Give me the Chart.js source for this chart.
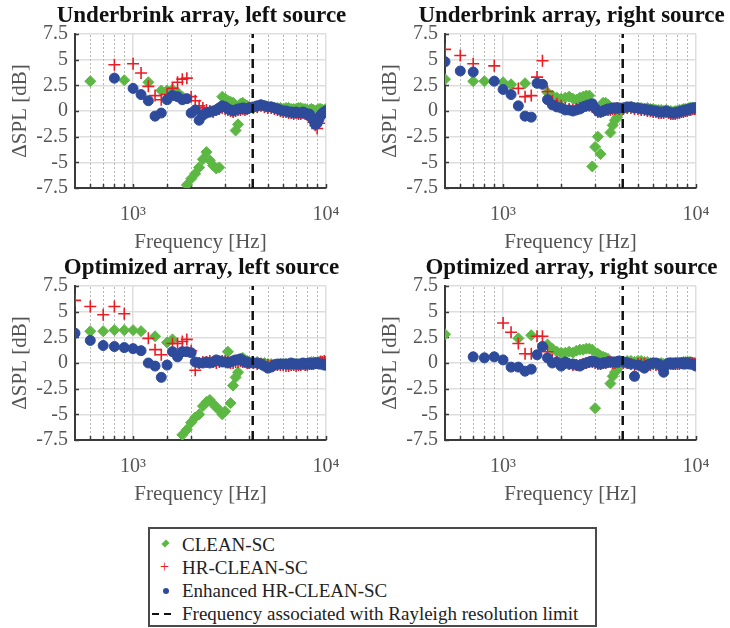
<!DOCTYPE html>
<html>
<head>
<meta charset="utf-8">
<script src="https://cdn.jsdelivr.net/npm/chart.js@4.4.0/dist/chart.umd.min.js"></script>
<style>
  body { margin: 0; width: 730px; height: 628px; overflow: hidden; position: relative; background: #fff; font-family: "Liberation Serif", serif; }
  canvas { position: absolute; }
  #legend { position: absolute; left: 148px; top: 527px; width: 445px; height: 96px; border: 2px solid #4a4a4a; font-size: 19px; color: #222; }
  #legend .row { position: absolute; left: 32px; height: 23px; line-height: 23px; white-space: nowrap; }
  #legend .mk { position: absolute; left: -32px; width: 32px; height: 23px; }
  .dia { position: absolute; left: 13px; top: 8px; width: 5px; height: 5px; background: #5db843; transform: rotate(45deg) scaleY(1.3); }
  .plus { color: #ec1c24; font-size: 16px; text-align: center; }
  .plus span { position: absolute; left: 10px; top: -1px; }
  .dot { position: absolute; left: 13px; top: 9px; width: 6px; height: 6px; border-radius: 50%; background: #2e4b9b; }
  .dash i { position: absolute; top: 11px; width: 7px; height: 2px; background: #111; }
</style>
</head>
<body>
<canvas id="c0" width="360" height="255" style="left:0;top:0"></canvas>
<canvas id="c1" width="360" height="255" style="left:370px;top:0"></canvas>
<canvas id="c2" width="360" height="255" style="left:0;top:252px"></canvas>
<canvas id="c3" width="360" height="255" style="left:370px;top:252px"></canvas>

<div id="legend">
  <div class="row" style="top:4px"><span class="mk"><i class="dia"></i></span>CLEAN-SC</div>
  <div class="row" style="top:27px"><span class="mk plus"><span>+</span></span>HR-CLEAN-SC</div>
  <div class="row" style="top:50px"><span class="mk"><i class="dot"></i></span>Enhanced HR-CLEAN-SC</div>
  <div class="row" style="top:73px"><span class="mk dash"><i style="left:2px"></i><i style="left:14px"></i></span>Frequency associated with Rayleigh resolution limit</div>
</div>

<script>
// frequencies (Hz): 100 Hz steps to 4 kHz, then 200 Hz steps
const freqs = [500, 600, 700, 800, 900, 1000, 1100, 1200, 1300, 1400, 1500, 1600, 1700, 1800, 1900,
  2000, 2100, 2200, 2300, 2400, 2500, 2600, 2700, 2800, 2900, 3000, 3100, 3200, 3300, 3400, 3500,
  3600, 3700, 3800, 3900, 4000,
  4200, 4400, 4600, 4800, 5000, 5200, 5400, 5600, 5800, 6000, 6200, 6400, 6600, 6800, 7000,
  7200, 7400, 7600, 7800, 8000, 8200, 8400, 8600, 8800, 9000, 9200, 9400, 9600, 9800, 10000];

const rayleighFreq = 4170;
const yTickValues = [-7.5, -5, -2.5, 0, 2.5, 5, 7.5];
const xLabelValues = [1000, 10000];
const xLabelTexts = ['10³', '10⁴'];
const titles = ['Underbrink array, left source', 'Underbrink array, right source',
  'Optimized array, left source', 'Optimized array, right source'];

// Underbrink, left source
const ulClean = [null, 2.9, null, null, 3.0, null, null, 2.8, null, 2.0, 2.0, 2.1, 1.8, 1.4, -7.2,
  -6.6, -6.1, -5.5, -4.7, -4.0, -4.8, -5.3, -5.6, -5.5, 1.4, 1.2, 1.0, 0.9, 0.8, -1.9, -1.3,
  0.7, 0.8, 0.6, 0.5, 0.4,
  0.3, 0.4, 0.5, 0.5, 0.4, 0.4, 0.3, 0.3, 0.3, 0.2, 0.3, 0.3, 0.2, 0.2, 0.2,
  0.3, 0.3, 0.2, 0.2, 0.1, 0.1, 0.2, 0.1, 0.0, 0.1, 0.2, 0.2, 0.1, 0.1, 0.2];
const ulHr = [null, null, null, 4.5, null, 4.6, 3.7, 2.4, 1.5, 1.1, 1.6, 2.2, 2.8, 3.1, 3.2,
  1.4, 1.0, 0.5, 0.3, 0.1, 0.0, -0.1, 0.1, 0.2, 0.3, 0.2, 0.1, 0.0, -0.1, 0.0, 0.1,
  0.1, 0.2, 0.1, 0.2, 0.3,
  0.3, 0.4, 0.5, 0.4, 0.3, 0.3, 0.2, 0.1, 0.0, -0.1, -0.1, -0.2, -0.2, -0.3, -0.2,
  -0.3, -0.3, -0.2, -0.3, -0.4, -0.5, -0.8, -1.1, -1.4, -1.7, -1.2, -0.6, -0.3, -0.2, 0.0];
const ulEnh = [null, null, null, 3.2, null, 2.2, 1.6, 1.0, -0.5, -0.2, 1.1, 1.5, 1.4, 1.1, 1.2,
  -0.2, 0.1, -0.9, -0.4, -0.2, -0.1, 0.0, 0.1, 0.3, 0.5, 0.4, 0.2, 0.1, 0.0, 0.1, 0.2,
  0.2, 0.3, 0.2, 0.2, 0.3,
  0.4, 0.5, 0.6, 0.5, 0.4, 0.4, 0.3, 0.2, 0.1, 0.0, 0.0, -0.1, -0.1, -0.2, -0.1,
  -0.2, -0.2, -0.1, -0.2, -0.3, -0.3, -0.6, -0.9, -1.3, -1.2, -0.8, -0.4, -0.2, -0.1, 0.0];

// Underbrink, right source
const urClean = [3.1, null, 2.9, 2.9, null, 2.8, 2.6, null, 2.7, null, null, null, 1.8, 1.5, 1.3,
  1.2, 1.3, 1.4, 1.2, 1.1, 1.3, 1.4, 1.5, 1.5, -5.4, -3.5, -2.5, -4.2, 0.8, 0.8, 0.6,
  -2.1, -1.4, -0.9, -0.6, -0.2,
  0.3, 0.3, 0.4, 0.3, 0.3, 0.3, 0.2, 0.3, 0.2, 0.2, 0.1, 0.1, 0.1, 0.0, 0.1,
  0.0, 0.0, -0.1, 0.0, 0.0, 0.1, 0.1, 0.2, 0.2, 0.2, 0.3, 0.3, 0.3, 0.3, 0.3];
const urHr = [6.0, 5.4, 4.6, null, 4.4, null, null, 2.2, 1.4, 1.5, 3.3, 4.9, 1.9, 1.0, 0.7,
  0.5, 0.3, 0.2, 0.1, 0.2, 0.3, 0.4, 0.5, 0.5, 0.4, 0.1, -0.1, -0.1, 0.0, 0.1, 0.1,
  0.1, 0.2, 0.2, 0.3, 0.2,
  0.2, 0.3, 0.3, 0.2, 0.2, 0.1, 0.1, 0.0, 0.0, -0.1, -0.1, -0.2, -0.2, -0.2, -0.1,
  -0.2, -0.3, -0.3, -0.3, -0.2, -0.2, -0.1, -0.1, 0.0, 0.0, 0.1, 0.1, 0.2, 0.2, 0.2];
const urEnh = [4.8, 3.9, 3.8, null, 2.9, 2.1, 1.6, 0.5, -0.5, -0.6, 2.7, 2.6, 1.1, 0.6, 0.4,
  0.3, 0.1, 0.1, 0.0, 0.1, 0.2, 0.4, 0.5, 0.6, 0.7, 0.3, 0.0, -0.1, 0.0, 0.1, 0.2,
  0.2, 0.3, 0.3, 0.3, 0.3,
  0.3, 0.4, 0.4, 0.3, 0.3, 0.2, 0.2, 0.1, 0.1, 0.0, 0.0, -0.1, -0.1, -0.1, 0.0,
  -0.1, -0.2, -0.2, -0.2, -0.1, -0.1, 0.0, 0.0, 0.1, 0.1, 0.2, 0.2, 0.3, 0.3, 0.3];

// Optimized, left source
const llClean = [null, 3.1, 3.1, 3.2, 3.2, 3.2, 3.1, null, 2.6, null, 2.0, 2.3, null, -7.0, -6.5,
  -5.8, -5.3, -5.0, -4.2, -3.8, -3.6, -4.0, -4.3, -4.6, -5.0, -4.7, 1.1, -3.9, -2.2, -1.4, -0.9,
  0.4, 0.5, 0.3, 0.2, 0.1,
  0.0, 0.1, 0.0, 0.0, -0.1, -0.1, -0.2, -0.2, -0.1, -0.1, -0.1, -0.2, -0.2, -0.1, -0.1,
  -0.2, -0.2, -0.1, -0.1, 0.0, 0.0, 0.1, 0.1, 0.0, 0.0, 0.1, 0.2, 0.1, 0.0, 0.0];
const llHr = [6.1, 5.5, 4.7, 5.5, 4.8, null, null, 2.4, 1.3, 0.8, null, 1.9, 1.9, 2.1, 2.3,
  1.2, -0.7, 0.0, 0.1, 0.1, 0.2, 0.1, 0.0, 0.1, 0.2, 0.2, 0.1, 0.0, 0.0, 0.1, 0.1,
  0.2, 0.1, 0.1, 0.0, 0.0,
  0.0, -0.1, -0.1, -0.2, -0.2, -0.3, -0.2, -0.2, -0.2, -0.2, -0.3, -0.3, -0.2, -0.2, -0.3,
  -0.2, -0.2, -0.1, -0.2, -0.2, -0.1, -0.1, -0.1, 0.0, 0.0, 0.0, 0.1, 0.1, 0.2, 0.1];
const llEnh = [2.9, 2.2, 1.7, 1.6, 1.5, 1.4, 1.2, 0.0, -0.3, -1.4, -0.2, 1.1, 0.6, 1.1, 1.1,
  1.0, 0.1, 0.0, 0.0, 0.1, 0.0, 0.1, 0.3, 0.2, 0.1, 0.1, 0.0, 0.1, 0.2, 0.3, 0.3,
  0.4, 0.2, 0.1, 0.1, 0.0,
  0.0, 0.0, -0.1, -0.3, -0.5, -0.4, -0.2, -0.1, -0.1, -0.1, -0.1, -0.1, 0.0, -0.1, -0.1,
  -0.1, -0.1, 0.0, -0.1, -0.1, 0.0, -0.1, -0.1, 0.0, 0.0, -0.1, -0.1, -0.1, -0.2, -0.2];

// Optimized, right source
const lrClean = [2.8, null, null, null, null, null, null, 2.4, null, 2.7, null, null, 1.8, 1.4, 1.1,
  1.0, 1.0, 1.1, 1.0, 1.2, 1.3, 1.3, 1.4, 1.4, 1.3, -4.4, 0.9, 0.7, 0.6, 0.5, 0.4,
  -2.0, -1.3, -0.9, -0.6, -0.2,
  0.1, 0.2, 0.2, 0.1, 0.2, 0.2, 0.1, 0.1, 0.0, 0.0, -0.1, -0.1, 0.0, -0.1, -0.1,
  -0.1, 0.0, 0.0, 0.0, 0.0, 0.0, 0.0, 0.1, 0.1, 0.1, 0.1, 0.1, 0.0, 0.0, 0.0];
const lrHr = [null, null, null, null, null, 3.9, 3.0, 1.9, 0.9, 0.9, 2.6, 2.6, 1.1, 0.3, 0.1,
  -0.1, 0.0, -0.1, -0.2, -0.2, -0.2, -0.1, 0.0, 0.1, 0.1, 0.0, -0.1, -0.1, 0.0, 0.0, 0.1,
  0.1, 0.0, 0.0, 0.1, 0.1,
  0.0, 0.0, -0.1, -0.2, -0.1, -0.1, -0.1, -0.2, -0.2, -0.1, -0.2, -0.2, -0.3, -0.4, -0.2,
  -0.1, -0.1, -0.1, -0.1, -0.1, -0.1, 0.0, 0.0, 0.0, 0.0, 0.0, 0.0, 0.0, -0.1, -0.1];
const lrEnh = [null, null, 0.6, 0.5, 0.6, 0.3, -0.4, -0.4, -0.8, -0.6, 0.8, 1.6, 0.5, 0.0, 0.1,
  -0.3, 0.1, -0.1, -0.1, -0.2, -0.3, -0.1, 0.0, 0.1, 0.2, 0.1, 0.0, -0.1, 0.0, 0.0, 0.1,
  0.1, 0.1, 0.1, 0.1, 0.2,
  0.1, 0.0, -0.1, -1.3, -0.2, -0.3, -0.5, -0.2, -0.1, 0.0, 0.0, -0.1, -0.3, -0.9, -0.2,
  0.0, 0.0, -0.1, 0.0, 0.0, 0.0, 0.0, -0.1, -0.1, 0.0, -0.1, -0.1, -0.1, -0.2, -0.3];

const GREEN = '#5db843';
const RED = '#ec1c24';
const BLUE = '#2e4b9b';
const GRID = '#dedede';
const AXIS = '#3a3a3a';
const TEXT = '#555';
const SERIF = '"Liberation Serif", "Times New Roman", serif';

function toPoints(values) {
    const pts = [];
    values.forEach(function (v, i) {
        if (v !== null) pts.push({ x: freqs[i], y: v });
    });
    return pts;
}

// title, minor dotted grid and inward tick marks
const panelDecor = {
    id: 'panelDecor',
    beforeDatasetsDraw(chart, args, opts) {
        const { ctx, chartArea: a, scales: { x, y } } = chart;
        ctx.save();
        ctx.strokeStyle = '#b5b5b5';
        ctx.lineWidth = 1;
        ctx.setLineDash([2, 2]);
        x.ticks.forEach(function (t) {
            if (xLabelValues.includes(t.value) || t.value <= x.min) return;
            const px = Math.round(x.getPixelForValue(t.value)) + 0.5;
            ctx.beginPath();
            ctx.moveTo(px, a.top + 1);
            ctx.lineTo(px, a.bottom);
            ctx.stroke();
        });
        ctx.setLineDash([]);
        ctx.strokeStyle = AXIS;
        ctx.lineWidth = 1.5;
        x.ticks.forEach(function (t) {
            if (t.value <= x.min) return;
            const px = Math.round(x.getPixelForValue(t.value)) + 0.5;
            ctx.beginPath();
            ctx.moveTo(px, a.bottom);
            ctx.lineTo(px, a.bottom - 4);
            ctx.stroke();
        });
        yTickValues.forEach(function (v) {
            const py = Math.round(y.getPixelForValue(v)) + 0.5;
            ctx.beginPath();
            ctx.moveTo(a.left, py);
            ctx.lineTo(a.left + 4, py);
            ctx.stroke();
        });
        ctx.restore();
    },
    afterDraw(chart, args, opts) {
        const { ctx, chartArea: a } = chart;
        ctx.save();
        ctx.fillStyle = '#111';
        ctx.font = 'bold 23px ' + SERIF;
        ctx.textAlign = 'center';
        ctx.textBaseline = 'alphabetic';
        ctx.fillText(opts.text, (a.left + a.right) / 2 + 1, 22);
        ctx.restore();
    }
};

const panels = [
    { id: 'c0', clean: ulClean, hr: ulHr, enh: ulEnh },
    { id: 'c1', clean: urClean, hr: urHr, enh: urEnh },
    { id: 'c2', clean: llClean, hr: llHr, enh: llEnh },
    { id: 'c3', clean: lrClean, hr: lrHr, enh: lrEnh }
];

panels.forEach(function (p, k) {
    new Chart(document.getElementById(p.id), {
        type: 'scatter',
        data: {
            datasets: [
                {
                    label: 'Frequency associated with Rayleigh resolution limit',
                    type: 'line',
                    data: [{ x: rayleighFreq, y: -7.5 }, { x: rayleighFreq, y: 7.5 }],
                    borderColor: '#111',
                    borderWidth: 2.5,
                    borderDash: [9, 6],
                    pointRadius: 0,
                    order: 0
                },
                {
                    label: 'Enhanced HR-CLEAN-SC',
                    data: toPoints(p.enh),
                    pointStyle: 'circle',
                    pointRadius: 5,
                    backgroundColor: BLUE,
                    borderColor: BLUE,
                    borderWidth: 1,
                    order: 1
                },
                {
                    label: 'HR-CLEAN-SC',
                    data: toPoints(p.hr),
                    pointStyle: 'cross',
                    pointRadius: 6,
                    borderColor: RED,
                    borderWidth: 1.6,
                    order: 2
                },
                {
                    label: 'CLEAN-SC',
                    data: toPoints(p.clean),
                    pointStyle: 'rectRot',
                    pointRadius: 5.5,
                    backgroundColor: GREEN,
                    borderColor: GREEN,
                    borderWidth: 1,
                    order: 3
                }
            ]
        },
        options: {
            responsive: false,
            animation: false,
            devicePixelRatio: 1,
            events: [],
            layout: { padding: { top: 34, right: 34, left: 0, bottom: 0 } },
            plugins: {
                legend: { display: false },
                tooltip: { enabled: false },
                panelDecor: { text: titles[k] }
            },
            scales: {
                x: {
                    type: 'logarithmic',
                    min: 500,
                    max: 10000,
                    afterFit: function (s) { s.height = 67; },
                    border: { color: AXIS, width: 2 },
                    grid: {
                        drawTicks: false,
                        lineWidth: 1.5,
                        color: function (c) {
                            return (c.tick && xLabelValues.includes(c.tick.value)) ? GRID : 'rgba(0,0,0,0)';
                        }
                    },
                    ticks: {
                        autoSkip: false,
                        maxRotation: 0,
                        padding: 15,
                        color: TEXT,
                        font: { family: SERIF, size: 20 },
                        callback: function (v) {
                            const i = xLabelValues.indexOf(v);
                            return i >= 0 ? xLabelTexts[i] : '';
                        }
                    },
                    title: {
                        display: true,
                        text: 'Frequency [Hz]',
                        color: TEXT,
                        font: { family: SERIF, size: 21 },
                        padding: { top: 0, bottom: 0 }
                    }
                },
                y: {
                    min: -7.5,
                    max: 7.5,
                    afterFit: function (s) { s.width = 75; },
                    border: { color: AXIS, width: 2 },
                    grid: { drawTicks: false, lineWidth: 1.5, color: GRID },
                    ticks: {
                        stepSize: 2.5,
                        autoSkip: false,
                        padding: 7,
                        color: TEXT,
                        font: { family: SERIF, size: 20 },
                        callback: function (v) { return String(v); }
                    },
                    title: {
                        display: true,
                        text: 'ΔSPL [dB]',
                        color: TEXT,
                        font: { family: SERIF, size: 21 },
                        padding: { top: 8, bottom: 0 }
                    }
                }
            }
        },
        plugins: [panelDecor]
    });
});
</script>
</body>
</html>
